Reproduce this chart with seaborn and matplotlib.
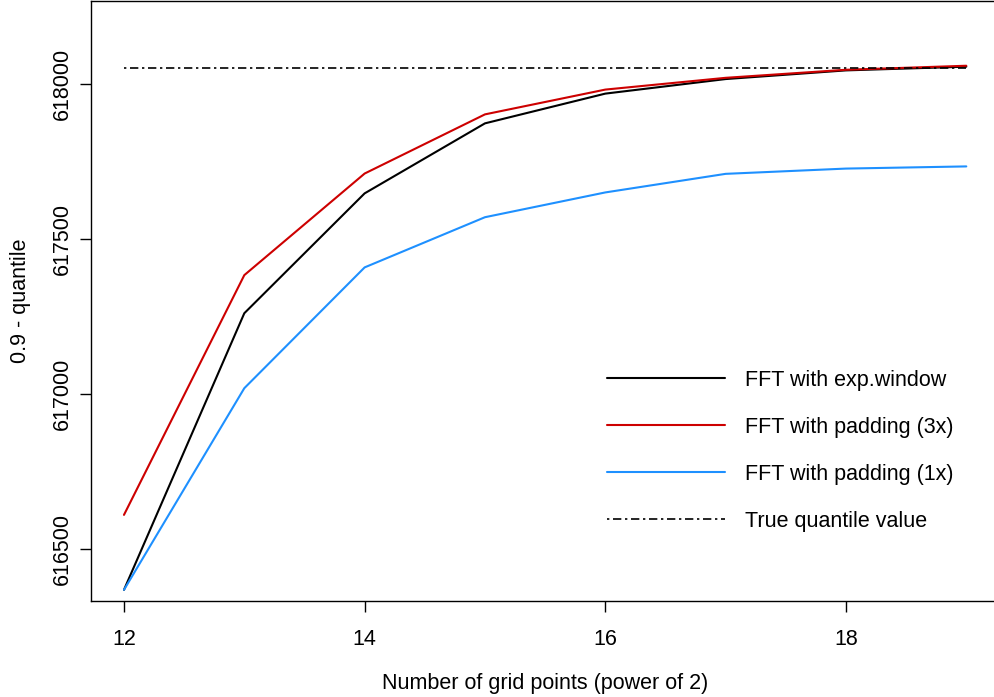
import matplotlib
matplotlib.use("Agg")
import matplotlib.pyplot as plt
import seaborn as sns
import pandas as pd
from matplotlib.lines import Line2D

grid_power = [12, 13, 14, 15, 16, 17, 18, 19]
exp_window = [616367, 617260, 617647, 617873, 617969, 618016, 618044, 618056]
padding_3x = [616609, 617383, 617711, 617902, 617982, 618020, 618046, 618059]
padding_1x = [616367, 617018, 617408, 617570, 617650, 617710, 617727, 617734]
true_value = 618052

series_names = ["FFT with exp.window", "FFT with padding (3x)", "FFT with padding (1x)"]
series_colors = ["#000000", "#CD0000", "#1E90FF"]
dashdot = (1.4, 2.2, 5, 2.2)

sns.set_style("ticks")
plt.rcParams["font.family"] = ["Liberation Sans", "DejaVu Sans"]
plt.rcParams["font.size"] = 15.5
plt.rcParams["text.color"] = "black"
plt.rcParams["axes.labelcolor"] = "black"

fig = plt.figure(figsize=(9.94, 6.97), dpi=100)
ax = fig.add_axes([91 / 994, 96 / 697, 909 / 994, 600 / 697])

df = pd.DataFrame({
    "x": grid_power * 3,
    "y": exp_window + padding_3x + padding_1x,
    "series": [n for n in series_names for _ in grid_power],
})
sns.lineplot(data=df, x="x", y="y", hue="series", hue_order=series_names,
             palette=series_colors, linewidth=1.5, ax=ax, legend=False)

truth = pd.DataFrame({"x": [grid_power[0], grid_power[-1]], "y": [true_value] * 2})
sns.lineplot(data=truth, x="x", y="y", color="black", linewidth=1.2, ax=ax)
ax.lines[-1].set_dashes(dashdot)

ax.set_xlim(11.726, 19.28)
ax.set_ylim(616331, 618268)
ax.set_xticks([12, 14, 16, 18])
ax.set_yticks([616500, 617000, 617500, 618000])
ax.set_yticklabels(["616500", "617000", "617500", "618000"], rotation=90, va="center")
ax.tick_params(direction="out", length=8, width=1.0, labelsize=15.5, colors="black")
ax.tick_params(axis="x", pad=12)
ax.tick_params(axis="y", pad=5)
for s in ax.spines.values():
    s.set_linewidth(1.0)
    s.set_color("black")

ax.set_xlabel("Number of grid points (power of 2)", fontsize=15.5, labelpad=17)
ax.set_ylabel("0.9 - quantile", fontsize=15.5, labelpad=15)

handles = [Line2D([], [], color=c, linewidth=1.5) for c in series_colors]
handles.append(Line2D([], [], color="black", linewidth=1.2, dashes=dashdot))
labels = series_names + ["True quantile value"]
leg = ax.legend(handles, labels, loc="upper left",
                bbox_to_anchor=(607 / 994, 1 - 370 / 697),
                bbox_transform=fig.transFigure, frameon=False,
                borderpad=0, borderaxespad=0, handlelength=5.5,
                handletextpad=0.9, labelspacing=1.2, fontsize=15.5,
                labelcolor="black")

fig.savefig("out.png", dpi=100)
